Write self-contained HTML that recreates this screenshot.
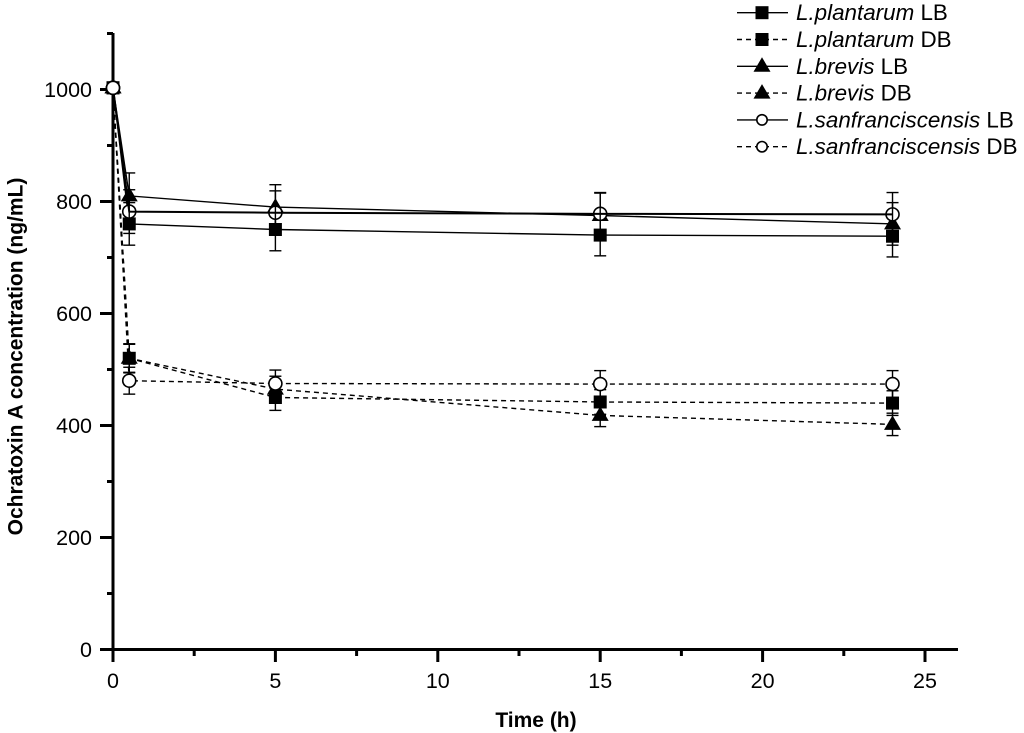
<!DOCTYPE html>
<html>
<head>
<meta charset="utf-8">
<title>Ochratoxin A concentration</title>
<style>
html,body{margin:0;padding:0;background:#fff;}
svg{display:block;font-family:"Liberation Sans",sans-serif;}
</style>
</head>
<body>
<svg id="chart" xmlns="http://www.w3.org/2000/svg" width="1024" height="733" viewBox="0 0 1024 733"></svg>
<script>
const times = [0, 0.5, 5, 15, 24];
const pLB = [1003, 760, 750, 740, 738];
const pLBErr = [0, 38, 38, 37, 37];
const pDB = [1003, 520, 450, 442, 440];
const pDBErr = [0, 25, 23, 22, 22];
const bLB = [1003, 810, 790, 775, 760];
const bLBErr = [0, 41, 40, 40, 38];
const bDB = [1003, 520, 465, 418, 402];
const bDBErr = [0, 26, 23, 20, 20];
const sLB = [1003, 782, 780, 778, 777];
const sLBErr = [0, 39, 39, 38, 39];
const sDB = [1003, 480, 475, 474, 474];
const sDBErr = [0, 24, 24, 24, 24];
const xTicks = [0, 5, 10, 15, 20, 25];
const xMinorTicks = [2.5, 7.5, 12.5, 17.5, 22.5];
const yTicks = [0, 200, 400, 600, 800, 1000];
const yMinorTicks = [100, 300, 500, 700, 900, 1100];
const seriesNames = ['plantarum-lb', 'plantarum-db', 'brevis-lb', 'brevis-db', 'sanfranciscensis-lb', 'sanfranciscensis-db'];
const seriesValues = [pLB, pDB, bLB, bDB, sLB, sDB];
const seriesErrors = [pLBErr, pDBErr, bLBErr, bDBErr, sLBErr, sDBErr];
const seriesMarkers = ['square', 'square', 'triangle', 'triangle', 'circle', 'circle'];
const seriesDashed = [false, true, false, true, false, true];
const legendSpecies = ['L.plantarum', 'L.plantarum', 'L.brevis', 'L.brevis', 'L.sanfranciscensis', 'L.sanfranciscensis'];
const legendSuffix = ['LB', 'DB', 'LB', 'DB', 'LB', 'DB'];

const NS = 'http://www.w3.org/2000/svg';
const svg = document.getElementById('chart');
const xScale = t => 113 + t * 32.48;
const yScale = v => 649.5 - v * 0.56;

function make(tag, attrs, parent) {
  const el = document.createElementNS(NS, tag);
  for (const k in attrs) el.setAttribute(k, attrs[k]);
  (parent || svg).appendChild(el);
  return el;
}
function seg(x1, y1, x2, y2, w, parent) {
  return make('line', {x1: x1, y1: y1, x2: x2, y2: y2, stroke: '#000', 'stroke-width': w}, parent);
}
function marker(kind, x, y, parent, r) {
  if (kind === 'square') {
    return make('rect', {x: x - 6.5, y: y - 6.5, width: 13, height: 13, fill: '#000'}, parent);
  }
  if (kind === 'triangle') {
    return make('polygon', {points: x + ',' + (y - 9) + ' ' + (x + 8.5) + ',' + (y + 5.5) + ' ' + (x - 8.5) + ',' + (y + 5.5), fill: '#000'}, parent);
  }
  return make('circle', {cx: x, cy: y, r: r || 6.5, fill: '#fff', stroke: '#000', 'stroke-width': 1.6}, parent);
}
function drawSeries(i) {
  const name = seriesNames[i];
  const g = make('g', {});
  
  
  const vals = seriesValues[i];
  const errs = seriesErrors[i];
  const pts = vals.map((v, j) => xScale(times[j]) + ',' + yScale(v)).join(' ');
  const line = make('polyline', {points: pts, fill: 'none', stroke: '#000', 'stroke-width': seriesMarkers[i] === 'circle' && !seriesDashed[i] ? 2 : 1.4}, g);
  if (seriesDashed[i]) line.setAttribute('stroke-dasharray', '5 4');
  
  
  vals.forEach(function (v, j) {
    if (!errs[j]) return;
    const x = xScale(times[j]);
    const top = yScale(v + errs[j]);
    const bottom = yScale(v - errs[j]);
    seg(x, top, x, bottom, 1.4, g);
    seg(x - 6, top, x + 6, top, 1.4, g);
    seg(x - 6, bottom, x + 6, bottom, 1.4, g);
  });
}

/* series lines + error bars (the LB circle series is drawn after the markers) */
[0, 1, 2, 3, 5].forEach(drawSeries);
/* markers: triangles under squares, circles on top */
[2, 3, 0, 1, 5, 4].forEach(function (i) {
  const g = make('g', {});
  
  
  seriesValues[i].forEach(function (v, j) {
    marker(seriesMarkers[i], xScale(times[j]), yScale(v), g);
  });
});
drawSeries(4);

/* axes */
const xAxis = make('g', {});


seg(100, 649.5, 958, 649.5, 3, xAxis);
xTicks.forEach(function (t) {
  seg(xScale(t), 649.5, xScale(t), 662, 3, xAxis);
  const lab = make('text', {x: xScale(t), y: 688, 'font-size': 21.5, 'text-anchor': 'middle', fill: '#000'}, xAxis);
  lab.textContent = t;
  
  
});
xMinorTicks.forEach(function (t) {
  seg(xScale(t), 649.5, xScale(t), 656, 3, xAxis);
});
const yAxis = make('g', {});


seg(113, 33, 113, 662, 3, yAxis);
yTicks.forEach(function (v) {
  seg(100, yScale(v), 113, yScale(v), 3, yAxis);
  const lab = make('text', {x: 92, y: yScale(v) + 7.5, 'font-size': 21.5, 'text-anchor': 'end', fill: '#000'}, yAxis);
  lab.textContent = v;
  
  
});
yMinorTicks.forEach(function (v) {
  seg(107, yScale(v), 113, yScale(v), 3, yAxis);
});

/* open start point stays on top of the axis */
const startPoint = marker('circle', xScale(times[0]), yScale(sDB[0]));



const xTitle = make('text', {x: 536, y: 727, 'font-size': 21, 'font-weight': 'bold', 'text-anchor': 'middle', fill: '#000'});
xTitle.textContent = 'Time (h)';


const yTitle = make('text', {x: 0, y: 0, transform: 'translate(22.5,356.5) rotate(-90)', 'font-size': 21, 'font-weight': 'bold', 'text-anchor': 'middle', fill: '#000'});
yTitle.textContent = 'Ochratoxin A concentration (ng/mL)';



/* legend */
const legend = make('g', {});


legendSpecies.forEach(function (sp, i) {
  const ly = 12.7 + i * 26.8;
  const g = make('g', {}, legend);
  
  
  const l = make('line', {x1: 737, y1: ly, x2: 788, y2: ly, stroke: '#000', 'stroke-width': 1.4}, g);
  if (seriesDashed[i]) l.setAttribute('stroke-dasharray', '5 4');
  marker(seriesMarkers[i], 762, ly, g, 5.2);
  const t = make('text', {x: 796, y: ly + 7.5, 'font-size': 22.4, fill: '#000'}, g);
  const it = make('tspan', {'font-style': 'italic'}, t);
  it.textContent = sp;
  const rest = make('tspan', {}, t);
  rest.textContent = ' ' + legendSuffix[i];
});
</script>
</body>
</html>
